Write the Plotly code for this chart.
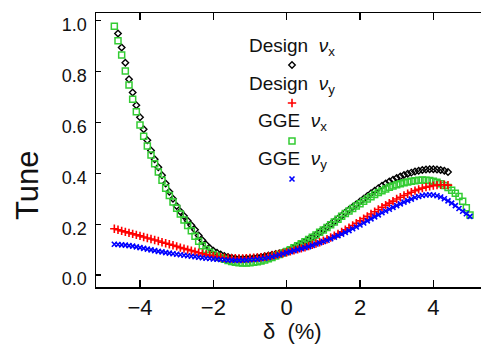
import plotly.graph_objects as go

# δ grid (%) shared by all series; None where a series has no point
delta = [-4.7, -4.6, -4.5, -4.4, -4.3, -4.2, -4.1, -4.0, -3.9, -3.8,
         -3.7, -3.6, -3.5, -3.4, -3.3, -3.2, -3.1, -3.0, -2.9, -2.8,
         -2.7, -2.6, -2.5, -2.4, -2.3, -2.2, -2.1, -2.0, -1.9, -1.8,
         -1.7, -1.6, -1.5, -1.4, -1.3, -1.2, -1.1, -1.0, -0.9, -0.8,
         -0.7, -0.6, -0.5, -0.4, -0.3, -0.2, -0.1, 0.0, 0.1, 0.2,
         0.3, 0.4, 0.5, 0.6, 0.7, 0.8, 0.9, 1.0, 1.1, 1.2,
         1.3, 1.4, 1.5, 1.6, 1.7, 1.8, 1.9, 2.0, 2.1, 2.2,
         2.3, 2.4, 2.5, 2.6, 2.7, 2.8, 2.9, 3.0, 3.1, 3.2,
         3.3, 3.4, 3.5, 3.6, 3.7, 3.8, 3.9, 4.0, 4.1, 4.2,
         4.3, 4.4, 4.5, 4.6, 4.7, 4.8, 4.9, 5.0]

design_nux = [None, 0.950, 0.895, 0.835, 0.770, 0.718, 0.668, 0.621, 0.574, 0.530,
              0.490, 0.456, 0.424, 0.393, 0.360, 0.328, 0.300, 0.272, 0.250, 0.232,
              0.214, 0.196, 0.178, 0.156, 0.137, 0.120, 0.106, 0.096, 0.088, 0.081,
              0.075, 0.071, 0.068, 0.065, 0.064, 0.064, 0.065, 0.066, 0.067, 0.069,
              0.071, 0.074, 0.077, 0.080, 0.083, 0.086, 0.089, 0.093, 0.100, 0.107,
              0.115, 0.123, 0.131, 0.140, 0.149, 0.158, 0.168, 0.178, 0.189, 0.200,
              0.211, 0.222, 0.233, 0.246, 0.257, 0.268, 0.279, 0.289, 0.300, 0.311,
              0.322, 0.332, 0.342, 0.351, 0.360, 0.368, 0.375, 0.382, 0.388, 0.394,
              0.399, 0.403, 0.407, 0.410, 0.413, 0.415, 0.416, 0.416, 0.415, 0.413,
              0.410, 0.405, None, None, None, None, None, None]

design_nuy = [0.182, 0.178, 0.174, 0.170, 0.166, 0.162, 0.158, 0.154, 0.150, 0.146,
              0.142, 0.138, 0.134, 0.129, 0.125, 0.121, 0.117, 0.113, 0.108, 0.104,
              0.100, 0.096, 0.092, 0.088, 0.084, 0.081, 0.078, 0.075, 0.072, 0.070,
              0.068, 0.067, 0.066, 0.066, 0.065, 0.065, 0.066, 0.067, 0.068, 0.069,
              0.070, 0.072, 0.074, 0.077, 0.080, 0.083, 0.086, 0.090, 0.093, 0.097,
              0.101, 0.105, 0.109, 0.114, 0.119, 0.124, 0.129, 0.135, 0.141, 0.148,
              0.155, 0.162, 0.170, 0.178, 0.186, 0.195, 0.204, 0.213, 0.222, 0.231,
              0.240, 0.249, 0.258, 0.267, 0.275, 0.283, 0.291, 0.299, 0.306, 0.313,
              0.320, 0.326, 0.332, 0.337, 0.342, 0.346, 0.349, 0.352, 0.354, 0.355,
              0.355, 0.354, None, None, None, None, None, None]

gge_nux = [0.979, 0.922, 0.866, 0.803, 0.748, 0.692, 0.642, 0.590, 0.546, 0.508,
           0.472, 0.438, 0.405, 0.373, 0.342, 0.313, 0.287, 0.263, 0.240, 0.217,
           0.195, 0.174, 0.153, 0.133, 0.115, 0.101, 0.090, 0.081, 0.074, 0.068,
           0.062, 0.057, 0.053, 0.050, 0.048, 0.047, 0.047, 0.048, 0.050, 0.052,
           0.055, 0.059, 0.064, 0.069, 0.075, 0.081, 0.087, 0.093, 0.100, 0.107,
           0.115, 0.123, 0.131, 0.140, 0.149, 0.158, 0.168, 0.177, 0.187, 0.198,
           0.209, 0.220, 0.231, 0.242, 0.252, 0.262, 0.272, 0.281, 0.290, 0.299,
           0.308, 0.317, 0.325, 0.332, 0.339, 0.345, 0.350, 0.355, 0.359, 0.363,
           0.366, 0.369, 0.371, 0.373, 0.374, 0.373, 0.372, 0.369, 0.365, 0.359,
           0.352, 0.344, 0.334, 0.322, 0.309, 0.290, 0.265, 0.236]

gge_nuy = [0.121, 0.120, 0.119, 0.118, 0.116, 0.114, 0.111, 0.108, 0.105, 0.102,
           0.099, 0.096, 0.093, 0.091, 0.088, 0.086, 0.084, 0.082, 0.080, 0.078,
           0.076, 0.074, 0.072, 0.070, 0.068, 0.066, 0.065, 0.063, 0.062, 0.061,
           0.060, 0.059, 0.059, 0.058, 0.058, 0.059, 0.059, 0.060, 0.061, 0.062,
           0.064, 0.066, 0.069, 0.072, 0.076, 0.080, 0.084, 0.088, 0.092, 0.096,
           0.100, 0.104, 0.108, 0.112, 0.117, 0.122, 0.127, 0.132, 0.137, 0.143,
           0.149, 0.155, 0.161, 0.168, 0.175, 0.182, 0.189, 0.197, 0.205, 0.213,
           0.221, 0.229, 0.237, 0.245, 0.252, 0.259, 0.266, 0.273, 0.280, 0.287,
           0.293, 0.299, 0.305, 0.309, 0.313, 0.315, 0.316, 0.315, 0.312, 0.307,
           0.300, 0.292, 0.283, 0.273, 0.262, 0.251, 0.241, 0.231]

x_ticks = [-4, -2, 0, 2, 4]
x_tick_labels = ["\u22124", "\u22122", "0", "2", "4"]
y_ticks = [0.0, 0.2, 0.4, 0.6, 0.8, 1.0]
y_tick_labels = ["0.0", "0.2", "0.4", "0.6", "0.8", "1.0"]

legend_labels = ["Design\u00a0\u00a0<i>ν</i><sub>x</sub>",
                 "Design\u00a0\u00a0<i>ν</i><sub>y</sub>",
                 "GGE\u00a0\u00a0<i>ν</i><sub>x</sub>",
                 "GGE\u00a0\u00a0<i>ν</i><sub>y</sub>"]

FONT = "Liberation Sans"
W, H = 481, 344
L, R, T, B = 96, 0, 13, 57
PW, PH = W - L - R, H - T - B


def px(xp, yp):
    return (xp - L) / PW, (H - B - yp) / PH


styles = [
    dict(name="Design νx", y=design_nux, symbol="diamond-open", size=5, color="#000000", lw=1.4),
    dict(name="GGE νx", y=gge_nux, symbol="square-open", size=6, color="#33cc33", lw=1.5),
    dict(name="Design νy", y=design_nuy, symbol="cross-thin-open", size=6, color="#ff0000", lw=1.6),
    dict(name="GGE νy", y=gge_nuy, symbol="x-thin-open", size=5, color="#0000ff", lw=1.6),
]

fig = go.Figure()
for s in styles:
    fig.add_trace(go.Scatter(
        x=delta, y=s["y"], mode="markers", name=s["name"], showlegend=False,
        marker=dict(symbol=s["symbol"], size=s["size"], color=s["color"],
                    line=dict(color=s["color"], width=s["lw"])),
        cliponaxis=False))

# legend keys (marker under each label) on an overlay axis in [0,1]
key_px_x = 292
key_px_y = [65, 103, 141, 179]
text_px_y = [47, 85, 122, 160]
key_styles = [styles[0], styles[2], styles[1], styles[3]]
for (kx, ky), s in zip([px(key_px_x, y) for y in key_px_y], key_styles):
    fig.add_trace(go.Scatter(
        x=[kx], y=[ky], xaxis="x2", yaxis="y2", mode="markers", showlegend=False,
        marker=dict(symbol=s["symbol"], size=s["size"], color=s["color"],
                    line=dict(color=s["color"], width=s["lw"]))))

annotations = []
for lab, ty in zip(legend_labels, text_px_y):
    ax, ay = px(key_px_x, ty)
    annotations.append(dict(x=ax, y=ay, xref="paper", yref="paper", text=lab,
                            showarrow=False, xanchor="center", yanchor="middle",
                            font=dict(family=FONT, size=19, color="#111")))
# axis titles
ax, ay = px(292, 331)
annotations.append(dict(x=ax, y=ay, xref="paper", yref="paper", text="δ\u00a0\u00a0(%)",
                        showarrow=False, xanchor="center", yanchor="middle",
                        font=dict(family=FONT, size=22, color="#111")))
ax, ay = px(27, 185)
annotations.append(dict(x=ax, y=ay, xref="paper", yref="paper", text="Tune", textangle=-90,
                        showarrow=False, xanchor="center", yanchor="middle",
                        font=dict(family=FONT, size=31, color="#111")))

fig.update_layout(
    width=W, height=H,
    margin=dict(l=L, r=R, t=T, b=B, autoexpand=False),
    paper_bgcolor="white", plot_bgcolor="white",
    showlegend=False,
    hovermode=False,
    annotations=annotations,
    xaxis=dict(range=[-5.2, 5.3], tickvals=x_ticks, ticktext=x_tick_labels,
               ticks="inside", ticklen=7, tickwidth=1.2, tickcolor="black",
               showline=True, linecolor="black", linewidth=1.5, mirror="ticks",
               showgrid=False, zeroline=False, automargin=False,
               tickfont=dict(family=FONT, size=22, color="#111")),
    yaxis=dict(range=[-0.047, 1.031], tickvals=y_ticks, ticktext=y_tick_labels,
               ticks="inside", ticklen=5, tickwidth=1.2, tickcolor="black",
               showline=True, linecolor="black", linewidth=1.5, mirror=False,
               showgrid=False, zeroline=False, automargin=False,
               ticklabelstandoff=4, ticklabelshift=4,
               tickfont=dict(family=FONT, size=18, color="#111")),
    xaxis2=dict(range=[0, 1], overlaying="x", visible=False, fixedrange=True),
    yaxis2=dict(range=[0, 1], overlaying="y", visible=False, fixedrange=True),
)

fig.write_html("out.html", config={"displayModeBar": False, "staticPlot": True},
               post_script="document.body.style.margin='0';document.body.style.overflow='hidden';")
